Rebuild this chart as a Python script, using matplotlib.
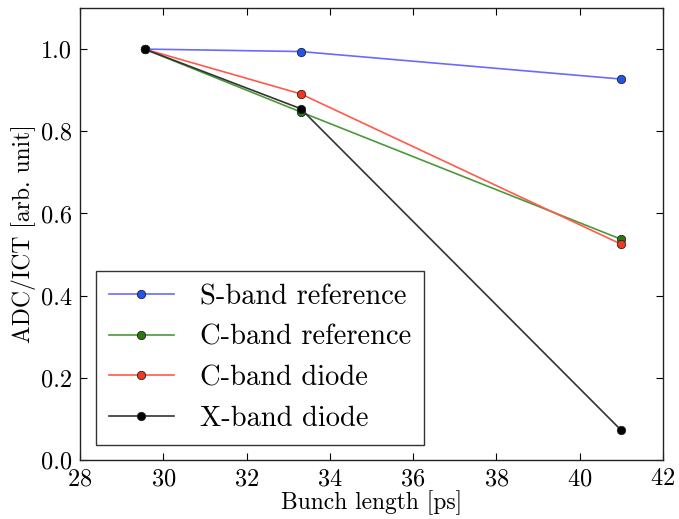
import matplotlib
matplotlib.use("Agg")
import matplotlib.pyplot as plt

plt.rcParams['font.family'] = ['cmr10', 'DejaVu Serif']
plt.rcParams['mathtext.fontset'] = 'cm'
plt.rcParams['axes.formatter.use_mathtext'] = True

bunch_length = [29.55, 33.3, 41.0]
s_band_ref = [1.0, 0.994, 0.927]
c_band_ref = [1.0, 0.847, 0.537]
c_band_diode = [1.0, 0.891, 0.525]
x_band_diode = [1.0, 0.855, 0.072]

labels = ["S-band reference", "C-band reference", "C-band diode", "X-band diode"]
series = [s_band_ref, c_band_ref, c_band_diode, x_band_diode]
line_colors = ["#6a6aff", "#4a9a3a", "#ff5a4a", "#333333"]
face_colors = ["#2255ee", "#2a7a10", "#ee3a20", "#000000"]

fig = plt.figure(figsize=(6.79, 5.19), dpi=100)
ax = fig.add_axes([0.1178, 0.1137, 0.8586, 0.8709])

for vals, lab, lc, fc in zip(series, labels, line_colors, face_colors):
    ax.plot(bunch_length, vals, '-', color=lc, lw=1.2, marker='o', ms=6,
            mfc=fc, mec='#222222', mew=0.6, label=lab)

ax.set_xlim(28, 42)
ax.set_ylim(0, 1.1)
ax.set_xticks([28, 30, 32, 34, 36, 38, 40, 42])
ax.set_yticks([0.0, 0.2, 0.4, 0.6, 0.8, 1.0])
ax.set_yticklabels(["0.0", "0.2", "0.4", "0.6", "0.8", "1.0"])
ax.tick_params(direction='in', top=True, right=True, length=5, width=0.8,
               labelsize=17.5, pad=6)
for sp in ax.spines.values():
    sp.set_linewidth(1.0)
    sp.set_color('#222222')

ax.set_xlabel("Bunch length [ps]", fontsize=17, labelpad=0)
ax.set_ylabel("ADC/ICT [arb. unit]", fontsize=17, labelpad=3)

leg = ax.legend(loc='lower left', bbox_to_anchor=(0.027, 0.034), borderaxespad=0,
                fontsize=20.5, numpoints=1, handlelength=2.3, fancybox=False,
                framealpha=1, edgecolor='#333333', labelspacing=0.5,
                borderpad=0.45, handletextpad=0.9)
leg.get_frame().set_linewidth(1.0)

fig.savefig("out.png", dpi=100)
